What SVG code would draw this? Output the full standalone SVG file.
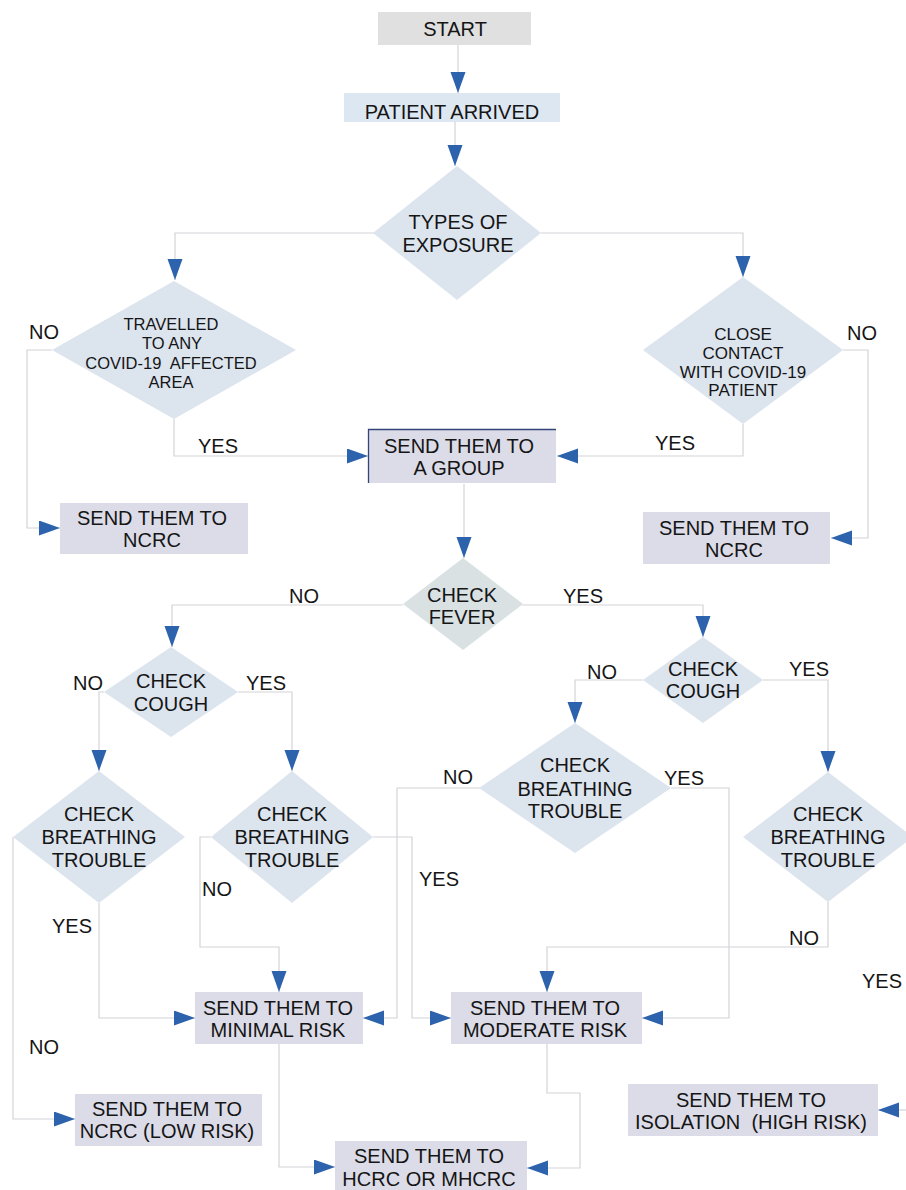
<svg xmlns="http://www.w3.org/2000/svg" width="906" height="1190" viewBox="0 0 906 1190">
<defs>
<style>
text{font-family:"Liberation Sans",Arial,sans-serif;fill:#151515;text-anchor:middle;font-size:20px}
.t16{font-size:16.5px}
.t17{font-size:17px}
.dia{fill:#dce4ee}
.fev{fill:#d9e1e3}
.box{fill:#dcdce8}
.conn polyline{fill:none;stroke:#d4d4d8;stroke-width:1.2;marker-end:url(#ah)}
</style>
<marker id="ah" markerUnits="userSpaceOnUse" markerWidth="22" markerHeight="16" refX="21" refY="7.5" orient="auto">
<path d="M0,0 L21,7.5 L0,15 Z" fill="#2d62ad"/>
</marker>
</defs>
<rect width="906" height="1190" fill="#ffffff"/>

<g id="connectors" class="conn">
<polyline points="458,45 458,93"/>
<polyline points="455,122 455,166"/>
<polyline points="374,233 175,233 175,280"/>
<polyline points="541,233 743,233 743,277"/>
<polyline points="52,350 27,350 27,528 60,528"/>
<polyline points="174,419 174,456 368,456"/>
<polyline points="843,350 868,350 868,538 831,538"/>
<polyline points="743,424 743,456 557,456"/>
<polyline points="464,484 464,558"/>
<polyline points="403,605 172,605 172,647"/>
<polyline points="522,605 703,605 703,637"/>
<polyline points="104,692 99,692 99,771"/>
<polyline points="238,692 292,692 292,771"/>
<polyline points="13,837 13,1119 75,1119"/>
<polyline points="99,903 99,1018 195,1018"/>
<polyline points="211,837 200,837 200,947 279,947 279,992"/>
<polyline points="373,837 412,837 412,1018 451,1018"/>
<polyline points="643,680 575,680 575,723"/>
<polyline points="763,680 828,680 828,772"/>
<polyline points="480,788 397,788 397,1018 363,1018"/>
<polyline points="671,788 729,788 729,1018 642,1018"/>
<polyline points="828,902 828,947 547,947 547,992"/>
<polyline points="279,1044 279,1167 335,1167"/>
<polyline points="547,1044 547,1093 580,1093 580,1168 527,1168"/>
<polyline points="910,1110 878,1110"/>
</g>

<g id="start">
<rect x="378" y="12" width="153" height="33" fill="#e0e0e0"/>
<text x="455" y="36">START</text>
</g>
<g id="patient-arrived">
<rect x="344" y="93" width="216" height="29" fill="#dde7f2"/>
<text x="452" y="119">PATIENT ARRIVED</text>
</g>
<g id="types-of-exposure">
<polygon class="dia" points="457,166 541,233 457,300 373,233"/>
<text x="458" y="229">TYPES OF</text>
<text x="458" y="252">EXPOSURE</text>
</g>
<g id="travelled">
<polygon class="dia" points="174,281 296,350 174,419 52,350"/>
<text class="t16" x="171" y="330">TRAVELLED</text>
<text class="t16" x="172" y="349">TO ANY</text>
<text class="t16" x="171" y="369" xml:space="preserve">COVID-19  AFFECTED</text>
<text class="t16" x="171" y="388">AREA</text>
</g>
<g id="close-contact">
<polygon class="dia" points="743,277 843,350 743,424 643,350"/>
<text class="t17" x="743" y="340">CLOSE</text>
<text class="t17" x="743" y="359">CONTACT</text>
<text class="t17" x="743" y="378">WITH COVID-19</text>
<text class="t17" x="743" y="396">PATIENT</text>
</g>
<g id="ncrc-left">
<rect class="box" x="60" y="503" width="188" height="51"/>
<text x="152" y="525">SEND THEM TO</text>
<text x="152" y="547">NCRC</text>
</g>
<g id="ncrc-right">
<rect class="box" x="643" y="512" width="187" height="52"/>
<text x="734" y="535">SEND THEM TO</text>
<text x="734" y="557">NCRC</text>
</g>
<g id="send-group">
<rect class="box" x="368" y="429" width="188" height="54"/>
<polyline points="368.5,483 368.5,429.5 556,429.5" fill="none" stroke="#33447a" stroke-width="1.3"/>
<text x="459" y="453">SEND THEM TO</text>
<text x="459" y="475">A GROUP</text>
</g>
<g id="check-fever">
<polygon class="fev" points="463,558 523,604 463,650 403,604"/>
<text x="462" y="602">CHECK</text>
<text x="462" y="624">FEVER</text>
</g>
<g id="cough-left">
<polygon class="dia" points="171,647 238,692 171,737 104,692"/>
<text x="171" y="688">CHECK</text>
<text x="171" y="711">COUGH</text>
</g>
<g id="cough-right">
<polygon class="dia" points="703,637 763,680 703,723 643,680"/>
<text x="703" y="676">CHECK</text>
<text x="703" y="698">COUGH</text>
</g>
<g id="breathing-a">
<polygon class="dia" points="99,771 185,837 99,903 13,837"/>
<text x="99" y="821">CHECK</text>
<text x="99" y="844">BREATHING</text>
<text x="99" y="867">TROUBLE</text>
</g>
<g id="breathing-b">
<polygon class="dia" points="292,771 373,837 292,903 211,837"/>
<text x="292" y="821">CHECK</text>
<text x="292" y="844">BREATHING</text>
<text x="292" y="867">TROUBLE</text>
</g>
<g id="breathing-c">
<polygon class="dia" points="575,723 671,788 575,853 479,788"/>
<text x="575" y="772">CHECK</text>
<text x="575" y="796">BREATHING</text>
<text x="575" y="818">TROUBLE</text>
</g>
<g id="breathing-d">
<polygon class="dia" points="828,772 913,837 828,902 743,837"/>
<text x="828" y="821">CHECK</text>
<text x="828" y="844">BREATHING</text>
<text x="828" y="867">TROUBLE</text>
</g>
<g id="minimal-risk">
<rect class="box" x="195" y="992" width="168" height="52"/>
<text x="278" y="1015">SEND THEM TO</text>
<text x="278" y="1037">MINIMAL RISK</text>
</g>
<g id="moderate-risk">
<rect class="box" x="451" y="992" width="191" height="52"/>
<text x="545" y="1015">SEND THEM TO</text>
<text x="545" y="1037">MODERATE RISK</text>
</g>
<g id="ncrc-low">
<rect class="box" x="75" y="1094" width="187" height="52"/>
<text x="167" y="1116">SEND THEM TO</text>
<text x="167" y="1138">NCRC (LOW RISK)</text>
</g>
<g id="hcrc">
<rect class="box" x="335" y="1141" width="192" height="52"/>
<text x="429" y="1163">SEND THEM TO</text>
<text x="429" y="1186">HCRC OR MHCRC</text>
</g>
<g id="isolation">
<rect class="box" x="628" y="1084" width="250" height="52"/>
<text x="751" y="1107">SEND THEM TO</text>
<text x="751" y="1129" xml:space="preserve">ISOLATION  (HIGH RISK)</text>
</g>

<g id="labels">
<text x="44" y="339">NO</text>
<text x="218" y="453">YES</text>
<text x="862" y="340">NO</text>
<text x="675" y="450">YES</text>
<text x="304" y="603">NO</text>
<text x="583" y="603">YES</text>
<text x="88" y="690">NO</text>
<text x="266" y="690">YES</text>
<text x="72" y="933">YES</text>
<text x="44" y="1054">NO</text>
<text x="217" y="896">NO</text>
<text x="439" y="886">YES</text>
<text x="602" y="679">NO</text>
<text x="809" y="676">YES</text>
<text x="458" y="784">NO</text>
<text x="684" y="785">YES</text>
<text x="804" y="945">NO</text>
<text x="882" y="988">YES</text>
</g>
</svg>
